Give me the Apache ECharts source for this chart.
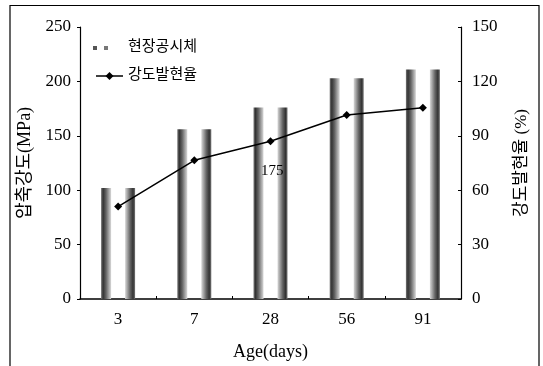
<!DOCTYPE html>
<html><head><meta charset="utf-8">
<script src="https://cdn.jsdelivr.net/npm/echarts@6/dist/echarts.min.js"></script>
<style>html,body{margin:0;padding:0;background:#fff}#c{width:543px;height:366px}</style>
</head><body><div id="c"></div>
<script>
var categories = ['3', '7', '28', '56', '91'];
var strength = [102, 156, 176, 203, 211];
var ratio = [51, 76.5, 87, 101.5, 105.5];
var leftTicks = [0, 250, 50];
var rightTicks = [0, 150, 30];

var FONT = '"Liberation Serif", "Noto Sans CJK KR", serif';
function grad(dir) {
  var s = dir ? [['#777',0],['#333',0.2],['#666',0.5],['#d8d8d8',1]] : [['#d8d8d8',0],['#666',0.5],['#333',0.8],['#777',1]];
  return new echarts.graphic.LinearGradient(0, 0, 1, 0, s.map(function (p) { return {offset: p[1], color: p[0]}; }));
}
var chart = echarts.init(document.getElementById('c'));
chart.setOption({
  animation: false,
  backgroundColor: '#fff',
  grid: {left: 80, right: 82, top: 27, bottom: 66},
  xAxis: {
    type: 'category', data: categories,
    name: 'Age(days)', nameLocation: 'middle', nameGap: 44,
    nameTextStyle: {fontFamily: FONT, fontSize: 18, color: '#000'},
    axisLine: {lineStyle: {color: '#000', width: 1.5}},
    axisTick: {show: true, inside: true, length: 3, lineStyle: {color: '#000'}},
    axisLabel: {fontFamily: FONT, fontSize: 17, color: '#000', margin: 12}
  },
  yAxis: [{
    type: 'value', min: leftTicks[0], max: leftTicks[1], interval: leftTicks[2],
    name: '압축강도(MPa)', nameLocation: 'middle', nameGap: 46, nameRotate: 90,
    nameTextStyle: {fontFamily: FONT, fontSize: 18, color: '#000'},
    axisLine: {show: true, lineStyle: {color: '#000', width: 1.2}},
    axisTick: {show: true, length: 3, lineStyle: {color: '#000'}},
    axisLabel: {fontFamily: FONT, fontSize: 17, color: '#000', margin: 9},
    splitLine: {show: false}
  }, {
    type: 'value', min: rightTicks[0], max: rightTicks[1], interval: rightTicks[2],
    name: '강도발현율 (%)', nameLocation: 'middle', nameGap: 52, nameRotate: 90,
    nameTextStyle: {fontFamily: FONT, fontSize: 17, color: '#000'},
    axisLine: {show: true, lineStyle: {color: '#000', width: 1.2}},
    axisTick: {show: true, inside: true, length: 3, lineStyle: {color: '#000'}},
    axisLabel: {fontFamily: FONT, fontSize: 17, color: '#000', margin: 11},
    splitLine: {show: false}
  }],
  series: [{
    name: '현장공시체', type: 'bar', data: strength, barWidth: 10, barGap: '140%',
    itemStyle: {color: grad(true)}
  }, {
    name: '현장공시체2', type: 'bar', data: strength, barWidth: 10, barGap: '140%',
    itemStyle: {color: grad(false)}
  }, {
    name: '강도발현율', type: 'line', yAxisIndex: 1, data: ratio,
    symbol: 'diamond', symbolSize: 8, z: 5,
    lineStyle: {color: '#000', width: 1.5}, itemStyle: {color: '#000'}
  }],
  graphic: [
    {type: 'polyline', shape: {points: [[10, 366], [10, 5.5], [539, 5.5], [539, 366]]}, style: {stroke: '#000', lineWidth: 1.2, fill: null}},
    {type: 'rect', shape: {x: 93, y: 46, width: 4, height: 4}, style: {fill: '#555'}},
    {type: 'rect', shape: {x: 104, y: 46, width: 4, height: 4}, style: {fill: '#777'}},
    {type: 'text', left: 128, top: 38, style: {text: '현장공시체', font: '15px "Noto Sans CJK KR"', fill: '#000'}},
    {type: 'line', shape: {x1: 96, y1: 76, x2: 123, y2: 76}, style: {stroke: '#000', lineWidth: 1.5}},
    {type: 'polygon', shape: {points: [[109.5, 72], [113.5, 76], [109.5, 80], [105.5, 76]]}, style: {fill: '#000'}},
    {type: 'text', left: 128, top: 66, style: {text: '강도발현율', font: '15px "Noto Sans CJK KR"', fill: '#000'}},
    {type: 'text', left: 261, top: 164, z: 100, style: {text: '175', font: '15px "Liberation Serif"', fill: '#000'}}
  ]
});
</script></body></html>
